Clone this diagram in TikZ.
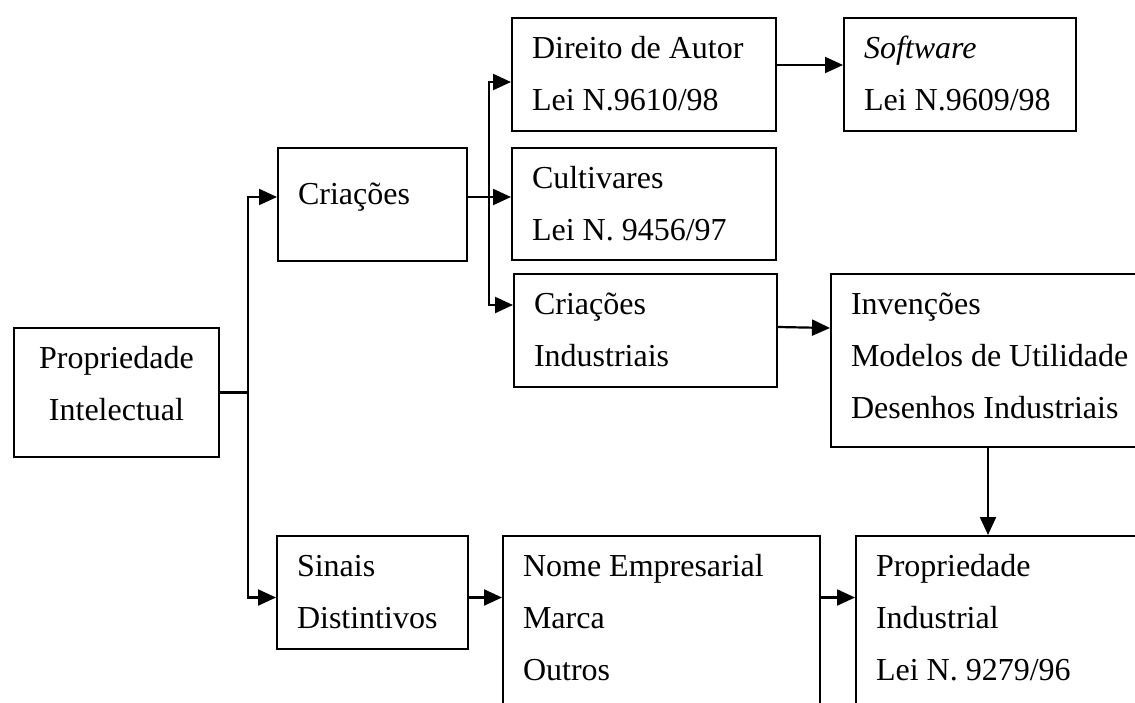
\documentclass[tikz,border=0pt]{standalone}
\usepackage{fontspec}
\setmainfont{Liberation Serif}
\usetikzlibrary{arrows.meta}
\newcommand{\boxtext}[4][20pt]{\parbox[c][#3][t]{#2}{\raggedright\rule{0pt}{#1}#4}}
\begin{document}
\begin{tikzpicture}[x=0.5pt,y=-0.5pt,line width=1.1pt,
  >={Triangle[length=9pt,width=8pt]},
  bx/.style={draw,line width=1pt,anchor=north west,inner xsep=10pt,inner ysep=0pt,
    font=\fontsize{16}{26}\selectfont}]
\useasboundingbox (0,0) rectangle (1135,702);
\clip (0,0) rectangle (1135,702);
\node[bx] (pi) at (13,327) {\boxtext{82.5pt}{64.5pt}{\centering Propriedade\\Intelectual}};
\node[bx] (cri) at (277,147) {\boxtext[28pt]{74.5pt}{56.5pt}{Criações}};
\node[bx] (sin) at (276,535) {\boxtext{75.5pt}{56.5pt}{Sinais\\Distintivos}};
\node[bx] (dir) at (511,17) {\boxtext{112pt}{56.5pt}{Direito de Autor\\Lei N.9610/98}};
\node[bx] (cult) at (511,147) {\boxtext{112pt}{56pt}{Cultivares\\Lei N. 9456/97}};
\node[bx] (cind) at (513,273) {\boxtext{111.5pt}{56.5pt}{Criações\\Industriais}};
\node[bx] (soft) at (843,17) {\boxtext{96pt}{56.5pt}{\textit{Software}\\Lei N.9609/98}};
\node[bx] (inv) at (830,273) {\boxtext{145pt}{86.5pt}{Invenções\\Modelos de Utilidade\\Desenhos Industriais}};
\node[bx] (nome) at (502,535) {\boxtext{138.5pt}{100pt}{Nome Empresarial\\Marca\\Outros}};
\node[bx] (pind) at (855,535) {\boxtext{145pt}{100pt}{Propriedade\\Industrial\\Lei N. 9279/96}};
\draw (pi.east) -- ++(28,0) coordinate (b1);
\draw [->] (b1) |- ([yshift=3.75pt]cri.west);
\draw [->] (b1) |- ([yshift=-2.5pt]sin.west);
\draw ([yshift=3.75pt]cri.east) -- ++(21,0) coordinate (b2);
\draw [->] (b2) -- ([yshift=3.5pt]cult.west);
\draw [->] (b2) |- ([yshift=-3.75pt]dir.west);
\draw [->] (b2) |- ([yshift=12.75pt]cind.west);
\draw [->] ([yshift=4.75pt]dir.east) -- ([yshift=4.75pt]soft.west);
\draw [->] ([yshift=1.75pt]cind.east) -- ([yshift=16.25pt]inv.west);
\draw [->] ([xshift=79pt]inv.south west) -- ([xshift=66.5pt]pind.north west);
\coordinate (s1) at ([yshift=-2.5pt]sin.east);
\draw [->] (s1) -- (s1 -| nome.west);
\draw [->] (s1 -| nome.east) -- (s1 -| pind.west);
\end{tikzpicture}
\end{document}
